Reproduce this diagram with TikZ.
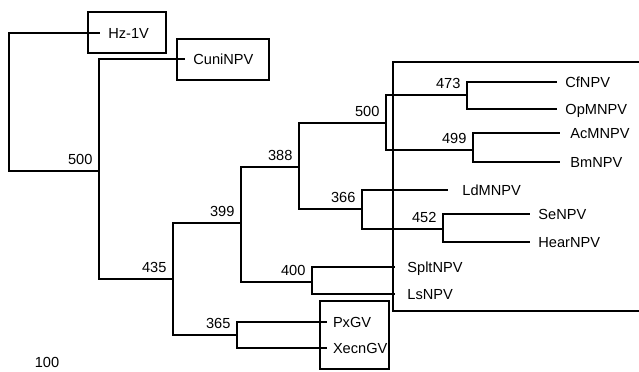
\documentclass[tikz,border=0pt]{standalone}
\usepackage{fontspec}
\setmainfont{Liberation Sans}
\tikzset{
  branch/.style={line width=0.55pt},
  grpbox/.style={line width=1.1pt},
  taxon/.style={anchor=west, inner xsep=4pt, inner ysep=0pt, text height=5.2pt, text depth=0pt},
  boot/.style={anchor=south east, inner sep=3pt},
}
\begin{document}
\begin{tikzpicture}[x=0.5pt,y=-0.5pt,font=\fontsize{7.3}{8.8}\selectfont]
  \useasboundingbox (0,0) rectangle (639,371);
  % taxa
  \node[taxon] (hz) at (100,33) {Hz-1V};
  \node[taxon] (cuni) at (185,59) {CuniNPV};
  \node[taxon] (cf) at (557,82) {CfNPV};
  \node[taxon] (opm) at (557,109) {OpMNPV};
  \node[taxon, inner xsep=5pt] (acm) at (560,133) {AcMNPV};
  \node[taxon, inner xsep=5pt] (bm) at (560,162) {BmNPV};
  \node[taxon, inner xsep=7pt] (ldm) at (448,190) {LdMNPV};
  \node[taxon] (se) at (530,214) {SeNPV};
  \node[taxon] (hear) at (530,242) {HearNPV};
  \node[taxon, inner xsep=6pt] (splt) at (395,267) {SpltNPV};
  \node[taxon, inner xsep=6pt] (ls) at (395,294) {LsNPV};
  \node[taxon, inner xsep=2.8pt] (px) at (327,322) {PxGV};
  \node[taxon, inner xsep=2.8pt] (xecn) at (327,348) {XecnGV};
  \node (scale) at (47,362) {100};
  % internal nodes
  \coordinate (root) at (9,102);
  \coordinate (n500) at (99,171);
  \coordinate (n435) at (173,279);
  \coordinate (n399) at (241,223);
  \coordinate (n365) at (237,335);
  \coordinate (n388) at (299,167);
  \coordinate (n400) at (312,282);
  \coordinate (n500b) at (386,123);
  \coordinate (n366) at (362,209);
  \coordinate (n473) at (467,95);
  \coordinate (n499) at (473,150);
  \coordinate (n452) at (443,229);
  % branches
  \draw[branch] (root) |- (hz.west);
  \draw[branch] (root) |- (n500) node[boot] {500};
  \draw[branch] (n500) |- (cuni.west);
  \draw[branch] (n500) |- (n435) node[boot] {435};
  \draw[branch] (n435) |- (n399) node[boot] {399};
  \draw[branch] (n435) |- (n365) node[boot] {365};
  \draw[branch] (n399) |- (n388) node[boot] {388};
  \draw[branch] (n399) |- (n400) node[boot] {400};
  \draw[branch] (n388) |- (n500b) node[boot] {500};
  \draw[branch] (n388) |- (n366) node[boot] {366};
  \draw[branch] (n500b) |- (n473) node[boot] {473};
  \draw[branch] (n500b) |- (n499) node[boot] {499};
  \draw[branch] (n473) |- (cf.west);
  \draw[branch] (n473) |- (opm.west);
  \draw[branch] (n499) |- (acm.west);
  \draw[branch] (n499) |- (bm.west);
  \draw[branch] (n366) |- (ldm.west);
  \draw[branch] (n366) |- (n452) node[boot] {452};
  \draw[branch] (n452) |- (se.west);
  \draw[branch] (n452) |- (hear.west);
  \draw[branch] (n400) |- (splt.west);
  \draw[branch] (n400) |- (ls.west);
  \draw[branch] (n365) |- (px.west);
  \draw[branch] (n365) |- (xecn.west);
  % group boxes
  \draw[grpbox] (88,12) rectangle (166,53);
  \draw[grpbox] (177,39) rectangle (269,80);
  \draw[grpbox] (645,62) -- (393,62) -- (393,311) -- (645,311);
  \draw[grpbox] (320,301) rectangle (389,369);
\end{tikzpicture}
\end{document}
